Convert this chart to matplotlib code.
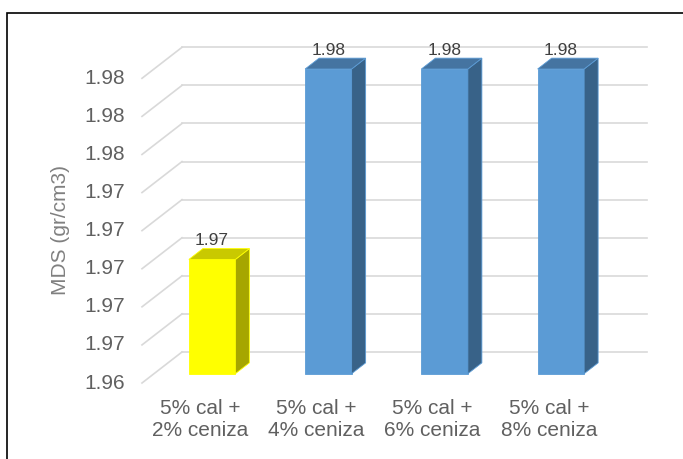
import numpy as np
import matplotlib
matplotlib.use("Agg")
import matplotlib.pyplot as plt
from matplotlib.patches import Polygon, Rectangle

categories = ["5% cal +\n2% ceniza", "5% cal +\n4% ceniza",
              "5% cal +\n6% ceniza", "5% cal +\n8% ceniza"]
mds = [1.970, 1.980, 1.980, 1.980]
y_ticks = [1.964, 1.966, 1.968, 1.970, 1.972, 1.974, 1.976, 1.978, 1.980]

front_colors = ["#FFFF00", "#5B9BD5", "#5B9BD5", "#5B9BD5"]
top_colors = ["#C9C900", "#4574A1", "#4574A1", "#4574A1"]
side_colors = ["#A6A600", "#386288", "#386288", "#386288"]

GRID = "#D9D9D9"
TEXT = "#606060"
FONT = "Liberation Sans"

W, H, DPI = 683, 459, 100
fig = plt.figure(figsize=(W / DPI, H / DPI), dpi=DPI)

# back wall of the 3d box
wall_l, wall_r, wall_t, wall_b = 182, 647, 47.3, 352
ax = fig.add_axes([wall_l / W, 1 - wall_b / H, (wall_r - wall_l) / W, (wall_b - wall_t) / H])
ax.set_xlim(-0.5, len(categories) - 0.5)
ax.set_ylim(y_ticks[0], y_ticks[-1])
ax.axis("off")

# oblique depth vector (front minus back) in data units
px_x = (wall_r - wall_l) / len(categories)
px_y = (wall_b - wall_t) / (y_ticks[-1] - y_ticks[0])
DX, DY = -40 / px_x, -31 / px_y

base = y_ticks[0]
x0 = -0.5

for v in y_ticks:
    ax.plot([x0, len(categories) - 0.5], [v, v], color=GRID, lw=1.2, clip_on=False, zorder=1)
    ax.plot([x0, x0 + DX], [v, v + DY], color=GRID, lw=1.2, clip_on=False, zorder=1)
    ax.annotate(f"{v:.2f}", (x0 + DX, v + DY), xytext=(-12, 0), textcoords="offset points",
                ha="right", va="center", fontsize=15, color=TEXT, family=FONT,
                annotation_clip=False)

bw = 0.40
f_depth, b_depth = 0.70, 0.35
x = np.arange(len(categories))

for i, (xi, val) in enumerate(zip(x, mds)):
    fx, fy = xi + f_depth * DX, f_depth * DY
    bx, by = xi + b_depth * DX, b_depth * DY
    ax.bar(fx, val - base, bottom=base + fy, width=bw, color=front_colors[i],
           edgecolor=front_colors[i], lw=0.6, clip_on=False, zorder=3)
    side = [(fx + bw / 2, base + fy), (bx + bw / 2, base + by),
            (bx + bw / 2, val + by), (fx + bw / 2, val + fy)]
    top = [(fx - bw / 2, val + fy), (fx + bw / 2, val + fy),
           (bx + bw / 2, val + by), (bx - bw / 2, val + by)]
    ax.add_patch(Polygon(side, closed=True, facecolor=side_colors[i],
                         edgecolor=front_colors[i], lw=0.6, clip_on=False, zorder=3))
    ax.add_patch(Polygon(top, closed=True, facecolor=top_colors[i],
                         edgecolor=front_colors[i], lw=0.6, clip_on=False, zorder=3))
    ax.annotate(f"{val:.2f}", (fx, val + by), xytext=(0, 5.8), textcoords="offset points",
                ha="center", va="center", fontsize=12.5, color="#404040",
                family=["Liberation Sans Narrow", FONT], annotation_clip=False, zorder=4)

    ax.annotate(categories[i], (xi + DX, base + DY), xytext=(0, -26.3),
                textcoords="offset points", ha="center", va="center", fontsize=15,
                color=TEXT, family=FONT, linespacing=1.22, annotation_clip=False)

fig.text(61 / W, 1 - 230 / H, "MDS (gr/cm3)", rotation=90, ha="center", va="center",
         fontsize=15, color="#808080", family=FONT)

# chart frame, cut off at the right and bottom
fig.patches.append(Rectangle((7 / W, -0.2), 1.2, 1.2 - 13 / H, transform=fig.transFigure,
                             fill=False, edgecolor="black", lw=1.2))

fig.savefig("out.png", dpi=DPI, facecolor="white")
